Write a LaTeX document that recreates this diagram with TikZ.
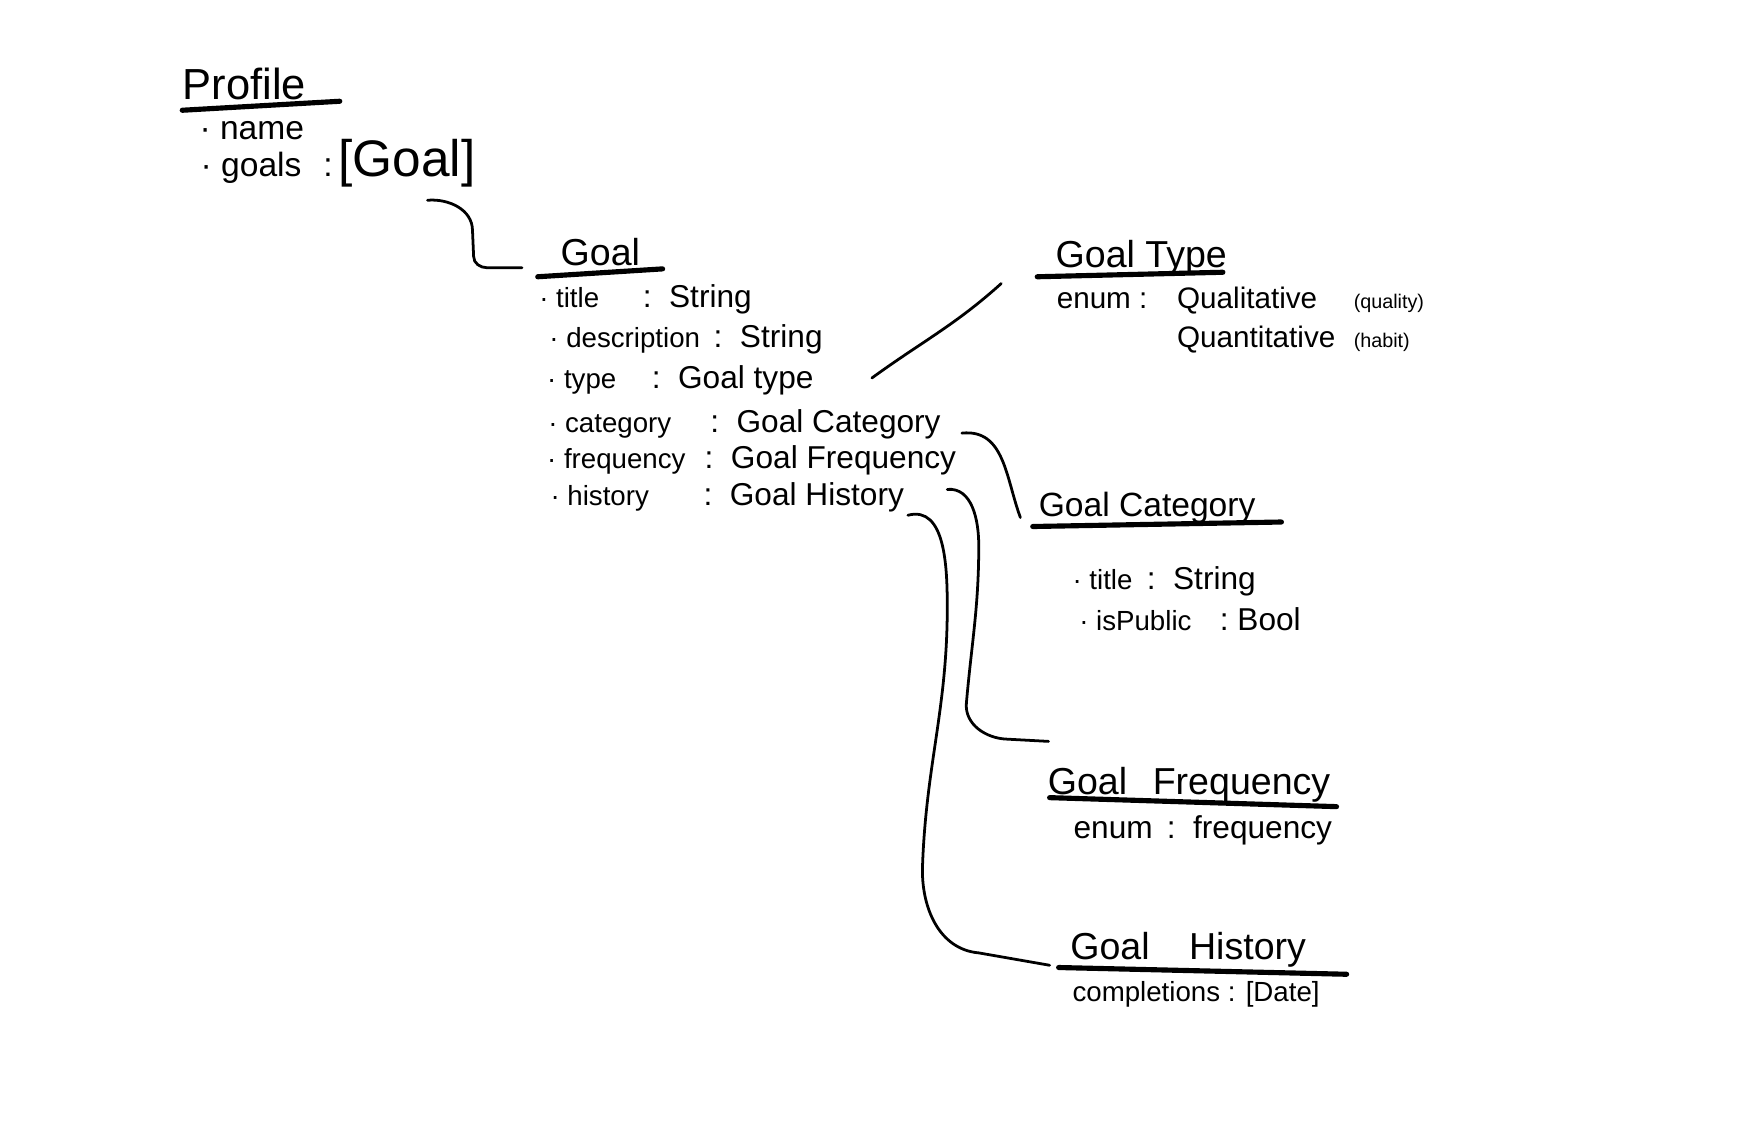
\documentclass[tikz,border=0pt]{standalone}
\usepackage{fontspec}
\setmainfont{Liberation Sans}
\usetikzlibrary{calc}
\begin{document}
\begin{tikzpicture}[x=0.02cm,y=-0.02cm,
	ttl/.style={anchor=base west,inner sep=0pt,font=\fontsize{19}{22}\selectfont},
	fkey/.style={anchor=base west,inner sep=0pt,font=\fontsize{14}{16}\selectfont},
	fval/.style={anchor=base west,inner sep=0pt,font=\fontsize{16}{18}\selectfont},
	uline/.style={line width=2.6pt,line cap=round},
	link/.style={line width=1.4pt,line cap=round}]
	\useasboundingbox (0,0) rectangle (1568,1018);

	\node[ttl,font=\fontsize{22}{26}\selectfont] (profile) at (162,88) {Profile};
	\draw[uline] (162,98) -- (302,90);
	\node[fkey,font=\fontsize{17}{20}\selectfont] (pname) at (177,124) {·\ name};
	\node[fkey,font=\fontsize{17}{20}\selectfont] (pgoals) at (178,157) {·\ goals};
	\node[fval,font=\fontsize{17}{20}\selectfont] (pgoalsv) at (287,157) {:\hspace{3pt}{\fontsize{26}{30}\selectfont[Goal]}};

	\node[ttl] (goal) at (498,236) {Goal};
	\draw[uline] (478,246) -- (589,239);
	\node[fkey] (gtitle) at (479,273) {·\ title};
	\node[fval] (gtitlev) at (571,273) {:\ \ String};
	\node[fkey] (gdesc) at (488,309) {·\ description};
	\node[fval] (gdescv) at (634,309) {:\ \ String};
	\node[fkey] (gtyp) at (486,345) {·\ type};
	\node[fval] (gtypev) at (579,345) {:\ \ Goal type};
	\node[fkey] (gcate) at (487,384) {·\ category};
	\node[fval] (gcatv) at (631,384) {:\ \ Goal Category};
	\node[fkey] (gfrq) at (486,416) {·\ frequency};
	\node[fval] (gfreqv) at (626,416) {:\ \ Goal Frequency};
	\node[fkey] (ghst) at (489,449) {·\ history};
	\node[fval] (ghistv) at (625,449) {:\ \ Goal History};

	\node[ttl] (gtype) at (938,238) {Goal Type};
	\draw[uline] (922,246) -- (1087,242);
	\node[fval,font=\fontsize{15}{18}\selectfont] (tenum) at (939,274) {enum :};
	\node[fval,font=\fontsize{15}{18}\selectfont] (tqual) at (1046,274) {Qualitative};
	\node[fval,font=\fontsize{10}{12}\selectfont] (tqualn) at (1203,274) {(quality)};
	\node[fval,font=\fontsize{15}{18}\selectfont] (tquant) at (1046,309) {Quantitative};
	\node[fval,font=\fontsize{10}{12}\selectfont] (thabit) at (1203,309) {(habit)};

	\node[ttl,font=\fontsize{17}{20}\selectfont] (gcat) at (923,459) {Goal Category};
	\draw[uline] (918,468) -- (1139,464);
	\node[fkey] (ctitle) at (953,524) {·\ title};
	\node[fval] (ctitlev) at (1019,524) {:\ \ String};
	\node[fkey] (cpublic) at (959,560) {·\ isPublic};
	\node[fval] (cpublicv) at (1084,560) {:\ Bool};

	\node[ttl] (gfreq) at (931,706) {Goal\hspace{13pt}Frequency};
	\draw[uline] (933,709) -- (1188,717);
	\node[fval] (fenum) at (954,745) {enum \,:\ \ frequency};

	\node[ttl] (ghist) at (951,853) {Goal\hspace{20pt}History};
	\draw[uline] (941,860) -- (1197,866);
	\node[fkey] (hcompl) at (953,890) {completions : [Date]};

	\draw[link] ($(pgoalsv.base west)+(93,21)$) to[out=5,in=90] (420,205) -- (421,228) to[out=-90,in=180] (433,238) -- ($(goal.base west)+(-34,2)$);
	\draw[link] ($(gtypev.base west)+(196,-9)$) to[out=36,in=-138] ($(gtype.base west)+(-48,14)$);
	\draw[link] ($(gcatv.base west)+(224,1)$) .. controls (893,381) and (894,425) .. ($(gcat.base west)+(-16,1)$);
	\draw[link] ($(gfreqv.base west)+(216,19)$) to[out=5,in=90] (870,485) to[out=-90,in=85] (859,625) to[out=-95,in=178] (895,657) -- ($(gfreq.base west)+(1,-47)$);
	\draw[link] ($(ghistv.base west)+(182,9)$) to[out=15,in=90] (842,540) to[out=-90,in=88] (820,770) to[out=-92,in=175] (870,847) -- ($(ghist.base west)+(-18,5)$);
\end{tikzpicture}
\end{document}
